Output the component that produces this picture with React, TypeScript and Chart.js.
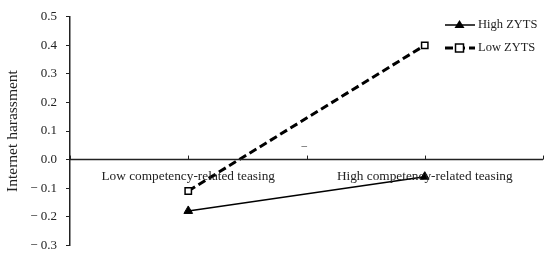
import React, { useEffect, useRef } from "react";
import { Chart, registerables } from "chart.js";

Chart.register(...registerables);

const categories = ["Low competency-related teasing", "High competency-related teasing"];
const categoryPositions = [1, 3];
const highZYTS = [-0.18, -0.06];
const lowZYTS = [-0.11, 0.4];
const seriesNames = ["High ZYTS", "Low ZYTS"];
const yTitle = "Internet harassment";
const strayMark = { x: 1.98, y: 0.047, text: "–" };

const FONT = "'Liberation Serif', 'Times New Roman', serif";

const overlay = {
  id: "overlay",
  afterDraw(chart: any) {
    const { ctx, scales, chartArea } = chart;
    const xs = scales.x;
    const ys = scales.y;
    const y0 = ys.getPixelForValue(0);
    ctx.save();
    ctx.strokeStyle = "#222";
    ctx.lineWidth = 1.5;
    ctx.beginPath();
    ctx.moveTo(chartArea.left, y0);
    ctx.lineTo(chartArea.right, y0);
    ctx.stroke();
    ctx.lineWidth = 1;
    for (let v = 0; v <= 4; v++) {
      const px = Math.round(xs.getPixelForValue(v)) + 0.5;
      ctx.beginPath();
      ctx.moveTo(px, y0 - 4);
      ctx.lineTo(px, y0);
      ctx.stroke();
    }
    ctx.fillStyle = "#222";
    ctx.font = `13.3px ${FONT}`;
    ctx.textAlign = "center";
    ctx.textBaseline = "middle";
    categories.forEach((c, i) => {
      ctx.fillText(c, xs.getPixelForValue(categoryPositions[i]), y0 + 17);
    });
    ctx.font = `11px ${FONT}`;
    ctx.fillText(strayMark.text, xs.getPixelForValue(strayMark.x), ys.getPixelForValue(strayMark.y));
    ctx.restore();

    // legend
    ctx.save();
    const lx = 445;
    const rows = [25, 48];
    chart.data.datasets.forEach((ds: any, i: number) => {
      const ry = rows[i];
      ctx.strokeStyle = "#000";
      ctx.lineWidth = ds.borderWidth;
      ctx.setLineDash(ds.borderDash || []);
      ctx.beginPath();
      ctx.moveTo(lx, ry);
      ctx.lineTo(lx + 30, ry);
      ctx.stroke();
      ctx.setLineDash([]);
      const cx = lx + 14.5;
      if (ds.pointStyle === "triangle") {
        ctx.fillStyle = "#000";
        ctx.beginPath();
        ctx.moveTo(cx, ry - 5);
        ctx.lineTo(cx + 5, ry + 3);
        ctx.lineTo(cx - 5, ry + 3);
        ctx.closePath();
        ctx.fill();
      } else {
        ctx.fillStyle = "#fff";
        ctx.fillRect(cx - 4, ry - 4, 8, 8);
        ctx.lineWidth = 1.5;
        ctx.strokeRect(cx - 4, ry - 4, 8, 8);
      }
      ctx.fillStyle = "#222";
      ctx.font = `12.5px ${FONT}`;
      ctx.textAlign = "left";
      ctx.textBaseline = "middle";
      ctx.fillText(seriesNames[i], lx + 33, ry);
    });
    ctx.restore();
  },
};

export default function App() {
  const ref = useRef<HTMLCanvasElement | null>(null);
  useEffect(() => {
    document.body.style.margin = "0";
    const canvas = ref.current!;
    const chart = new Chart(canvas, {
      type: "line",
      data: {
        datasets: [
          {
            label: seriesNames[0],
            data: categoryPositions.map((x, i) => ({ x, y: highZYTS[i] })),
            borderColor: "#000",
            backgroundColor: "#000",
            borderWidth: 1.5,
            pointStyle: "triangle",
            pointRadius: 5,
            pointBackgroundColor: "#000",
            pointBorderColor: "#000",
            pointBorderWidth: 1,
            tension: 0,
          },
          {
            label: seriesNames[1],
            data: categoryPositions.map((x, i) => ({ x, y: lowZYTS[i] })),
            borderColor: "#000",
            backgroundColor: "#fff",
            borderWidth: 3,
            borderDash: [8, 4],
            pointStyle: "rect",
            pointRadius: 4.5,
            pointBackgroundColor: "#fff",
            pointBorderColor: "#000",
            pointBorderWidth: 1.5,
            tension: 0,
          },
        ],
      },
      options: {
        responsive: false,
        animation: false,
        layout: { padding: { left: 0, right: 7, top: 12, bottom: 11 } },
        plugins: { legend: { display: false }, tooltip: { enabled: false } },
        scales: {
          x: {
            type: "linear",
            display: false,
            min: 0,
            max: 4,
          },
          y: {
            min: -0.3,
            max: 0.5,
            afterFit: (s: any) => {
              s.width = 70;
            },
            border: { display: true, color: "#222", width: 1.5 },
            grid: { drawOnChartArea: false, drawTicks: true, tickLength: 4, color: "#222", lineWidth: 1 },
            ticks: {
              stepSize: 0.1,
              padding: 9,
              color: "#222",
              font: { family: FONT, size: 13 },
              callback: (v: any) => {
                const n = Math.round(Number(v) * 10) / 10;
                return n < 0 ? "− " + Math.abs(n).toFixed(1) : n.toFixed(1);
              },
            },
            title: {
              display: true,
              text: yTitle,
              color: "#222",
              font: { family: FONT, size: 15.5 },
              padding: { top: 4, bottom: 0 },
            },
          },
        },
      },
      plugins: [overlay],
    });
    return () => chart.destroy();
  }, []);
  return <canvas ref={ref} width={550} height={262} style={{ display: "block" }} />;
}
